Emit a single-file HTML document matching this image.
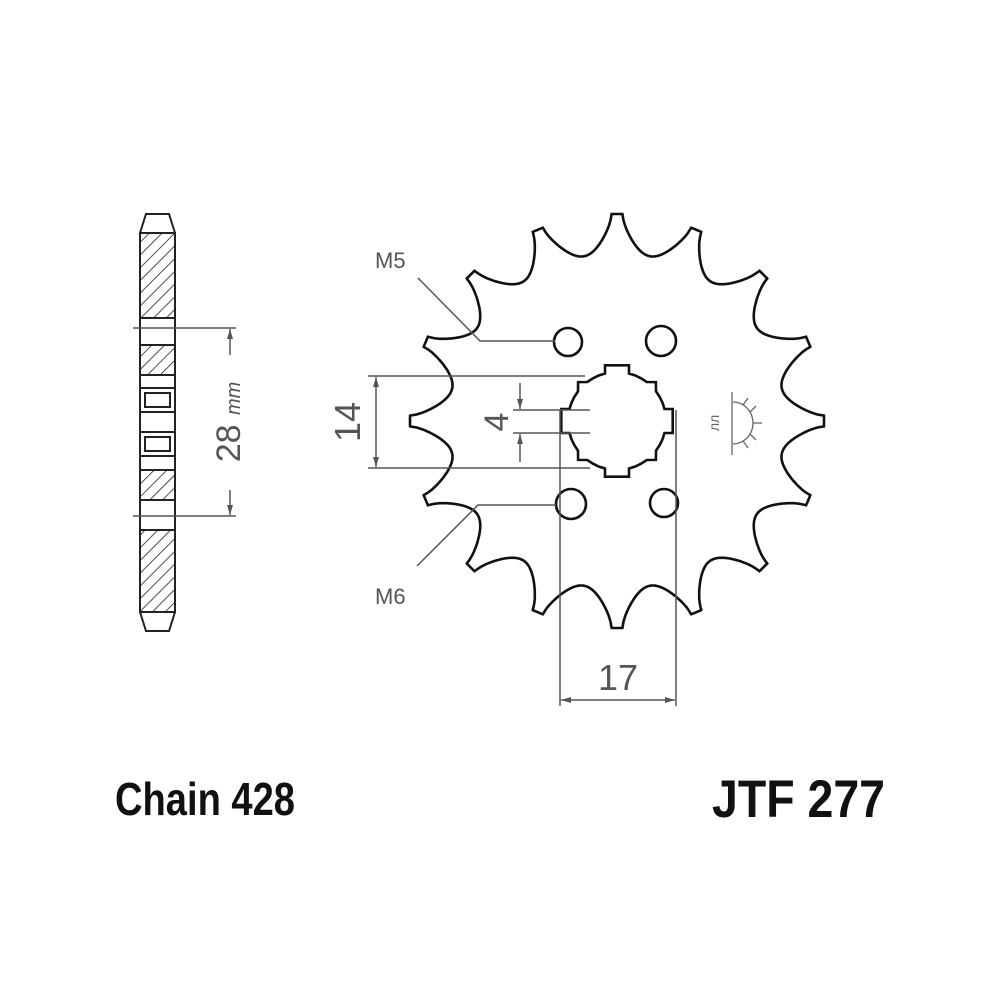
<!DOCTYPE html>
<html><head><meta charset="utf-8"><style>
html,body{margin:0;padding:0;background:#fff;width:1000px;height:1000px;overflow:hidden}
svg{display:block}
</style></head><body>
<svg id="s" width="1000" height="1000" viewBox="0 0 1000 1000" xmlns="http://www.w3.org/2000/svg">
<defs>
<pattern id="h" width="9" height="9" patternUnits="userSpaceOnUse" patternTransform="rotate(45)">
<line x1="0" y1="0" x2="0" y2="9" stroke="#222" stroke-width="1.6"/>
</pattern>
<marker id="a" markerWidth="10" markerHeight="6" refX="10" refY="3" orient="auto-start-reverse" markerUnits="userSpaceOnUse"><path d="M0,0 L10,3 L0,6 z" fill="#555"/></marker>
</defs>

<!-- side view -->
<g stroke="#222" stroke-width="2" fill="none">
<path d="M140,233 L146,214 L169,214 L175,233 L175,612 L169,631 L146,631 L140,612 Z" fill="#fff"/>
<rect x="140" y="233" width="35" height="85" fill="url(#h)"/>
<rect x="140" y="345" width="35" height="30" fill="url(#h)"/>
<rect x="140" y="388" width="35" height="24"/>
<rect x="145" y="393" width="25" height="14"/>
<rect x="140" y="432" width="35" height="24"/>
<rect x="145" y="437" width="25" height="14"/>
<rect x="140" y="470" width="35" height="30" fill="url(#h)"/>
<rect x="140" y="530" width="35" height="82" fill="url(#h)"/>
<line x1="140" y1="233" x2="175" y2="233"/>
<line x1="140" y1="612" x2="175" y2="612"/>
</g>
<g stroke="#555" stroke-width="1.5" fill="none">
<line x1="133" y1="328" x2="236" y2="328"/>
<line x1="133" y1="516" x2="236" y2="516"/>
<line x1="230" y1="329" x2="230" y2="355" marker-start="url(#a)"/>
<line x1="230" y1="490" x2="230" y2="515" marker-end="url(#a)"/>
</g>
<text transform="translate(240,422) rotate(-90)" text-anchor="middle" font-family="Liberation Sans,sans-serif" font-size="34" fill="#555">28 <tspan font-size="20" font-style="italic">mm</tspan></text>

<!-- sprocket -->
<path id="sp" fill="none" stroke="#111" stroke-width="2.6"/>
<path id="bore" fill="#fff" stroke="#111" stroke-width="2.6"/>
<g stroke="#111" stroke-width="2.6" fill="none">
<circle cx="568" cy="342" r="14"/>
<circle cx="661" cy="341" r="15"/>
<circle cx="571" cy="504" r="15"/>
<circle cx="664" cy="503" r="14"/>
</g>

<!-- dimension lines -->
<g stroke="#555" stroke-width="1.5" fill="none">
<line x1="368" y1="376" x2="585" y2="376"/>
<line x1="368" y1="468" x2="590" y2="468"/>
<line x1="376" y1="377" x2="376" y2="467" marker-start="url(#a)" marker-end="url(#a)"/>
<line x1="513" y1="410" x2="590" y2="410"/>
<line x1="513" y1="433" x2="590" y2="433"/>
<line x1="520" y1="383" x2="520" y2="409" marker-end="url(#a)"/>
<line x1="520" y1="462" x2="520" y2="434" marker-end="url(#a)"/>
<line x1="560" y1="410" x2="560" y2="706"/>
<line x1="676" y1="410" x2="676" y2="706"/>
<line x1="561" y1="700" x2="675" y2="700" marker-start="url(#a)" marker-end="url(#a)"/>
<polyline points="418,278 480,341 555,341"/>
<polyline points="417,566 478,505 556,505"/>
</g>
<g font-family="Liberation Sans,sans-serif" fill="#555">
<text transform="translate(360,422) rotate(-90)" text-anchor="middle" font-size="36">14</text>
<text transform="translate(508,422) rotate(-90)" text-anchor="middle" font-size="34">4</text>
<text x="618" y="690" text-anchor="middle" font-size="36">17</text>
<text x="375" y="268" font-size="22">M5</text>
<text x="375" y="604" font-size="22">M6</text>
</g>

<!-- symbol -->
<g stroke="#666" stroke-width="1.3" fill="none">
<line x1="732" y1="392" x2="732" y2="455"/>
<path d="M733,402 A20,21 0 0 1 733,444"/>
<line x1="743" y1="405" x2="748" y2="398"/>
<line x1="750" y1="412" x2="756" y2="406"/>
<line x1="753" y1="423" x2="762" y2="423"/>
<line x1="750" y1="434" x2="756" y2="440"/>
<line x1="743" y1="441" x2="748" y2="448"/>
</g>
<text transform="translate(719,423) rotate(-90)" text-anchor="middle" font-family="Liberation Sans,sans-serif" font-size="14" fill="#666">лл</text>

<g font-family="Liberation Sans,sans-serif" font-weight="bold" fill="#111">
<text x="115" y="815" font-size="46" textLength="180" lengthAdjust="spacingAndGlyphs">Chain 428</text>
<text x="712" y="817" font-size="53" textLength="173" lengthAdjust="spacingAndGlyphs">JTF 277</text>
</g>
</svg>
<script>
(function(){
var cx=617,cy=421,rt=207,rr=168,N=16,pts=[];
for(var i=0;i<=2400;i++){
 var th=i/2400*2*Math.PI;
 var p=(th/(2*Math.PI))*N; var ph=p-Math.round(p); var a=Math.abs(ph);
 var h;
 if(a<0.07)h=1; else {var t=(a-0.07)/0.43; h=1-Math.pow(Math.sin(t*Math.PI/2),0.6);}
 var r=rr+(rt-rr)*h;
 var ang=th-Math.PI/2;
 pts.push((cx+r*Math.cos(ang)).toFixed(1)+','+(cy+r*Math.sin(ang)).toFixed(1));
}
document.getElementById('sp').setAttribute('d','M'+pts.join(' L')+'Z');
var b=[],r0=49,r1=57,w=12;
function P(r,a){return (cx+r*Math.cos(a)).toFixed(1)+','+(cy+r*Math.sin(a)).toFixed(1);}
for(var k=0;k<4;k++){
 var base=k*Math.PI/2;
 var da=Math.asin(w/r0), db=Math.asin(w/r1);
 b.push(P(r0,base-da));b.push(P(r1,base-db));b.push(P(r1,base+db));b.push(P(r0,base+da));
 var steps=8;
 for(var j=1;j<steps;j++){
  var aa=base+da+(Math.PI/2-2*da)*j/steps;
  var rr2=(j==4)?r0+6:r0;
  b.push(P(rr2,aa));
 }
}
document.getElementById('bore').setAttribute('d','M'+b.join(' L')+'Z');
})();
</script>
</body></html>
